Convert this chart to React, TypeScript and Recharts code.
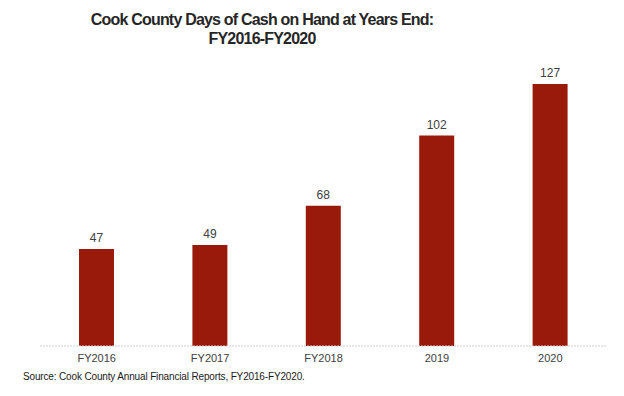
import { BarChart, Bar, XAxis, YAxis, LabelList } from "recharts";

const categories = ["FY2016", "FY2017", "FY2018", "2019", "2020"];
const daysOfCash = [47, 49, 68, 102, 127];

const data = categories.map((name, i) => ({ name, days: daysOfCash[i] }));

export default function App() {
  return (
    <div
      style={{
        position: "absolute",
        left: 0,
        top: 0,
        width: 624,
        height: 396,
        background: "#fff",
        fontFamily: "'Liberation Sans', Arial, sans-serif",
      }}
    >
      <div
        style={{
          position: "absolute",
          left: 0,
          top: 10,
          width: 524,
          textAlign: "center",
          fontSize: 16,
          fontWeight: "bold",
          lineHeight: "19px",
          color: "#262626",
          letterSpacing: -0.8,
        }}
      >
        Cook County Days of Cash on Hand at Years End:
        <br />
        FY2016-FY2020
      </div>
      <BarChart
        width={624}
        height={396}
        data={data}
        margin={{ top: 84, right: 17, bottom: 20, left: 40 }}
      >
        <XAxis
          dataKey="name"
          height={30}
          tickLine={false}
          stroke="#d0d0d0"
          strokeDasharray="2 1"
          tick={{ fill: "#404040", fontSize: 11 }}
        />
        <YAxis hide domain={[0, 127]} />
        <Bar dataKey="days" fill="#991a0a" barSize={35} isAnimationActive={false}>
          <LabelList dataKey="days" position="top" offset={7} fill="#404040" fontSize={12} />
        </Bar>
      </BarChart>
      <div
        style={{
          position: "absolute",
          left: 23,
          top: 370,
          fontSize: 10,
          letterSpacing: -0.15,
          color: "#1a1a1a",
          lineHeight: "13px",
        }}
      >
        Source: Cook County Annual Financial Reports, FY2016-FY2020.
      </div>
    </div>
  );
}
